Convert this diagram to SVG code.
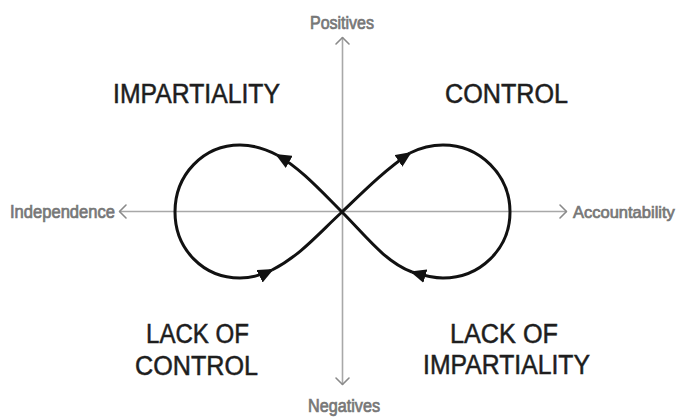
<svg xmlns="http://www.w3.org/2000/svg" width="680" height="418" viewBox="0 0 680 418">
<style>
.axis{stroke:#a8a8a8;stroke-width:1.6;fill:none}
.chev{stroke:#8a8a8a;stroke-width:1.6;fill:none;stroke-linecap:round;stroke-linejoin:round}
.curve{stroke:#111;stroke-width:3;fill:none}
.ax{font-family:"Liberation Sans",Arial,sans-serif;font-size:17.5px;fill:#777;stroke:#777;stroke-width:0.7}
.big{font-family:"Liberation Sans",Arial,sans-serif;font-size:27px;fill:#1e1e1e;stroke:#1e1e1e;stroke-width:0.5}
</style>
<defs>
<marker id="tri" viewBox="0 0 16 14" refX="14" refY="7" markerUnits="userSpaceOnUse" markerWidth="16" markerHeight="14" orient="auto">
<path d="M0,0 L16,7 L0,14 Z" fill="#111"/>
</marker>
</defs>
<g id="axes">
<line class="axis" x1="342.5" y1="37" x2="342.5" y2="385"/>
<line class="axis" x1="119" y1="211.5" x2="567" y2="211.5"/>
<polyline class="chev" points="336,44 342.5,37.5 349,44"/>
<polyline class="chev" points="336,378 342.5,384.5 349,378"/>
<polyline class="chev" points="126,205 119.5,211.5 126,218"/>
<polyline class="chev" points="560,205 566.5,211.5 560,218"/>
</g>
<g id="connectors">
<path class="curve" d="M342,212 C320,190 300,168 277,155" marker-end="url(#tri)"/>
<path class="curve" d="M277,155 C266,149 254,145 240,145 C203,145 175,175 175,212 C175,249 203,278 240,278 C250,278 260,276 272,270" marker-end="url(#tri)"/>
<path class="curve" d="M272,270 C300,256 320,232 342,212"/>
<path class="curve" d="M342,212 C365,190 385,170 410,153" marker-end="url(#tri)"/>
<path class="curve" d="M410,153 C420,148 432,145 443,145 C480,145 510,175 510,212 C510,249 480,278 443,278 C435,278 425,276 412,272" marker-end="url(#tri)"/>
<path class="curve" d="M412,272 C385,262 365,235 342,212"/>
</g>
<g id="label-positives"><text class="ax" x="310" y="29" textLength="64" lengthAdjust="spacingAndGlyphs">Positives</text></g>
<g id="label-negatives"><text class="ax" x="308" y="412" textLength="72" lengthAdjust="spacingAndGlyphs">Negatives</text></g>
<g id="label-independence"><text class="ax" x="10" y="218" textLength="105" lengthAdjust="spacingAndGlyphs">Independence</text></g>
<g id="label-accountability"><text class="ax" x="573" y="218" style="font-size:16.5px">Accountability</text></g>
<g id="label-impartiality"><text class="big" x="113" y="103" textLength="167" lengthAdjust="spacingAndGlyphs">IMPARTIALITY</text></g>
<g id="label-control"><text class="big" x="445" y="103" textLength="123" lengthAdjust="spacingAndGlyphs">CONTROL</text></g>
<g id="label-lack-of-control">
<text class="big" x="146" y="343" textLength="103" lengthAdjust="spacingAndGlyphs">LACK OF</text>
<text class="big" x="135" y="375" textLength="123" lengthAdjust="spacingAndGlyphs">CONTROL</text>
</g>
<g id="label-lack-of-impartiality">
<text class="big" x="450" y="343" textLength="108" lengthAdjust="spacingAndGlyphs">LACK OF</text>
<text class="big" x="423" y="374" textLength="167" lengthAdjust="spacingAndGlyphs">IMPARTIALITY</text>
</g>
</svg>
